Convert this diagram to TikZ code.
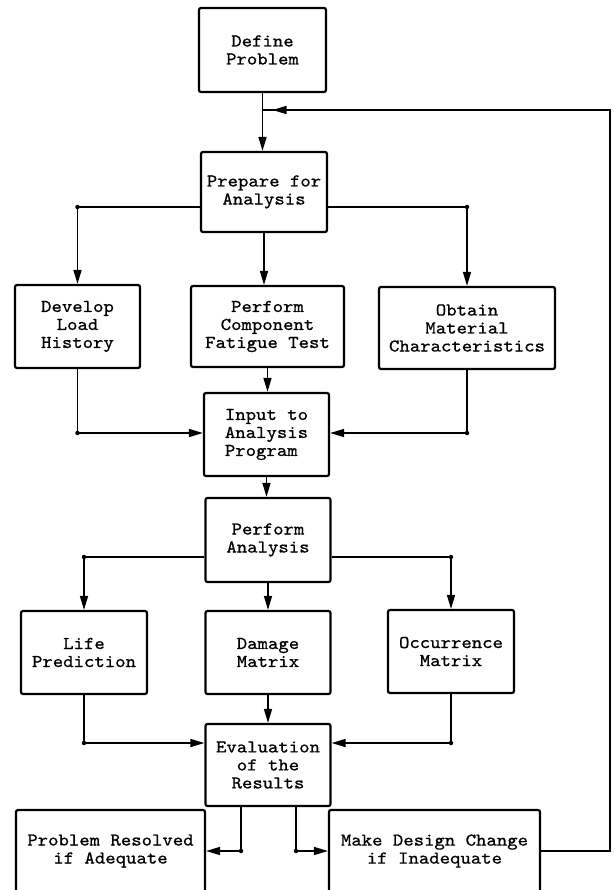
\documentclass[tikz,border=0pt]{standalone}
\usepackage{fontspec}
\newfontfamily\boxfont{lmmono10-regular.otf}[FakeStretch=1.1,FakeBold=0.8]
\usetikzlibrary{arrows.meta}

\tikzset{
  box/.style={draw, line width=2.2pt, rounded corners=2pt, inner sep=0pt,
    minimum width=125pt, minimum height=83pt, align=center,
    font=\boxfont\fontsize{18}{18}\selectfont},
  link/.style={line width=1.5pt},
  arr/.style={link, -{Triangle[length=14pt,width=8pt]}},
  dot/.style={circle, fill, inner sep=0pt, minimum size=4.5pt},
}

\begin{document}
\begin{tikzpicture}[x=1pt,y=-1pt]
\useasboundingbox (0,0) rectangle (614,890);
\clip (0,0) rectangle (614,890);

% boxes
\node[box, minimum width=127pt, minimum height=84pt] (define) at (262.5,50) {Define\\Problem};
\node[box, minimum width=126pt, minimum height=80pt] (prep) at (264,192) {Prepare for\\Analysis};

\node[box] (load) at (77.5,326.5) {Develop\\Load\\History};
\node[box, minimum width=153pt, minimum height=81pt] (test) at (267.5,326.5) {Perform\\Component\\Fatigue Test};
\node[box, minimum width=176pt, minimum height=82pt] (matl) at (467,328) {Obtain\\Material\\Characteristics};

\node[box, align=left] (input) at (266.5,434.5) {Input to\\Analysis\\Program};
\node[box, minimum height=84pt] (analysis) at (268,540) {Perform\\Analysis};

\node[box, minimum width=126pt] (life) at (84,652.5) {Life\\Prediction};
\node[box] (damage) at (268,652.5) {Damage\\Matrix};
\node[box, minimum width=126pt] (occur) at (451,651.5) {Occurrence\\Matrix};

\node[box, minimum height=82pt] (eval) at (268,765) {Evaluation\\of the\\Results};

\node[box, minimum width=189pt, minimum height=82pt] (resolved) at (110.5,851) {Problem Resolved\\if Adequate};
\node[box, minimum width=211pt, minimum height=82pt] (change) at (434.5,851) {Make Design Change\\if Inadequate};

% junctions
\coordinate (j0) at (262.5,110);
\node[dot] (d1) at (77.5,207) {};
\node[dot] (d2) at (467,207) {};
\node[dot] (d3) at (77.5,433) {};
\node[dot] (d4) at (467,433) {};
\node[dot] (d5) at (84,557) {};
\node[dot] (d6) at (451,557) {};
\node[dot] (d7) at (84,743) {};
\node[dot] (d8) at (451,743) {};
\node[dot] (d9) at (241,851) {};
\node[dot] (d10) at (296,851) {};

% connectors
\draw[arr] (define.south) -- (define.south |- prep.north);

\draw[arr] (d1 -| prep.west) -- (d1.center) -- (load.north);
\draw[arr] (d2 -| prep.east) -- (d2.center) -- (matl.north);
\draw[arr] (prep.south) -- (prep.south |- test.north);

\draw[arr] (load.south) -- (d3.center) -- (d3 -| input.west);
\draw[arr] (matl.south) -- (d4.center) -- (d4 -| input.east);
\draw[arr] (test.south) -- (test.south |- input.north);

\draw[arr] (input.south) -- (input.south |- analysis.north);

\draw[arr] (d5 -| analysis.west) -- (d5.center) -- (life.north);
\draw[arr] (d6 -| analysis.east) -- (d6.center) -- (occur.north);
\draw[arr] (analysis.south) -- (analysis.south |- damage.north);

\draw[arr] (life.south) -- (d7.center) -- (d7 -| eval.west);
\draw[arr] (occur.south) -- (d8.center) -- (d8 -| eval.east);
\draw[arr] (damage.south) -- (damage.south |- eval.north);

\draw[arr] (d9 |- eval.south) -- (d9.center) -- (resolved.east);
\draw[arr] (d10 |- eval.south) -- (d10.center) -- (change.west);

% feedback loop
\draw[link] (change.east) -- ++(69,0) coordinate (c1) |- (j0);
\draw[arr] (c1 |- j0) -- ([xshift=10pt]j0);
\end{tikzpicture}
\end{document}
